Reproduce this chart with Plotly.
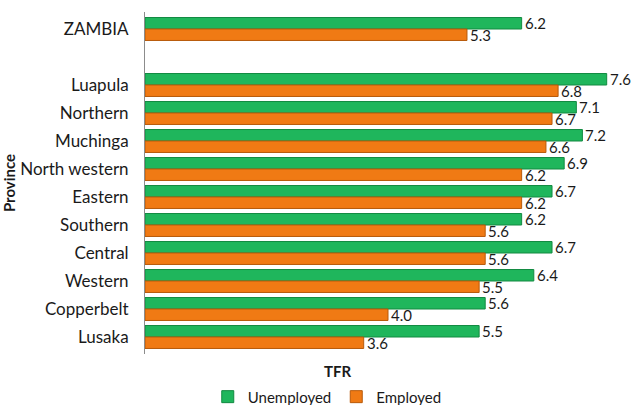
import plotly.graph_objects as go

provinces = ["ZAMBIA", " ", "Luapula", "Northern", "Muchinga", "North western",
             "Eastern", "Southern", "Central", "Western", "Copperbelt", "Lusaka"]
unemployed = [6.2, None, 7.6, 7.1, 7.2, 6.9, 6.7, 6.2, 6.7, 6.4, 5.6, 5.5]
employed = [5.3, None, 6.8, 6.7, 6.6, 6.2, 6.2, 5.6, 5.6, 5.5, 4.0, 3.6]

font = "Lato, Open Sans, sans-serif"
ink = "#1a1a1a"

fig = go.Figure()
fig.add_trace(go.Bar(
    y=provinces, x=unemployed, name="Unemployed", orientation="h",
    marker=dict(color="#1fb65c", line=dict(color="#128a40", width=1)),
))
fig.add_trace(go.Bar(
    y=provinces, x=employed, name="Employed", orientation="h",
    marker=dict(color="#f07a14", line=dict(color="#b85a0a", width=1)),
))

# value labels just past the end of each bar
for vals, shift in [(unemployed, 6), (employed, -6)]:
    for p, v in zip(provinces, vals):
        if v is None:
            continue
        fig.add_annotation(x=v, y=p, text=f"{v:.1f}", showarrow=False,
                           xanchor="left", yanchor="middle", xshift=1, yshift=shift,
                           font=dict(size=15, color=ink, family=font))

# x axis title sits left of the plot centre in the original
fig.add_annotation(x=0.397, xref="paper", y=0, yref="paper", yshift=-17,
                   text="<b>TFR</b>", showarrow=False, yanchor="middle",
                   font=dict(size=15, color=ink, family=font))

fig.update_layout(
    width=633, height=405,
    barmode="group", bargap=0.18, bargroupgap=0.0,
    plot_bgcolor="white", paper_bgcolor="white",
    margin=dict(l=145, r=2, t=12, b=51),
    font=dict(family=font, size=17, color=ink),
    legend=dict(orientation="h", x=0.375, xanchor="center", yref="container", y=0.02,
                yanchor="middle", font=dict(size=15), itemwidth=30, traceorder="normal"),
)
fig.update_xaxes(range=[0, 8], showticklabels=False, showgrid=False, zeroline=False,
                 showline=False, ticks="", automargin=False)
fig.update_yaxes(autorange="reversed", showgrid=False, showline=True, linecolor="#8c8c8c",
                 linewidth=1, ticks="", ticklabelstandoff=12, automargin=False,
                 tickfont=dict(size=17),
                 title=dict(text="<b>Province</b>", font=dict(size=15), standoff=0))

fig.write_html("out.html", config={"displayModeBar": False},
               post_script="document.body.style.margin='0px';")
